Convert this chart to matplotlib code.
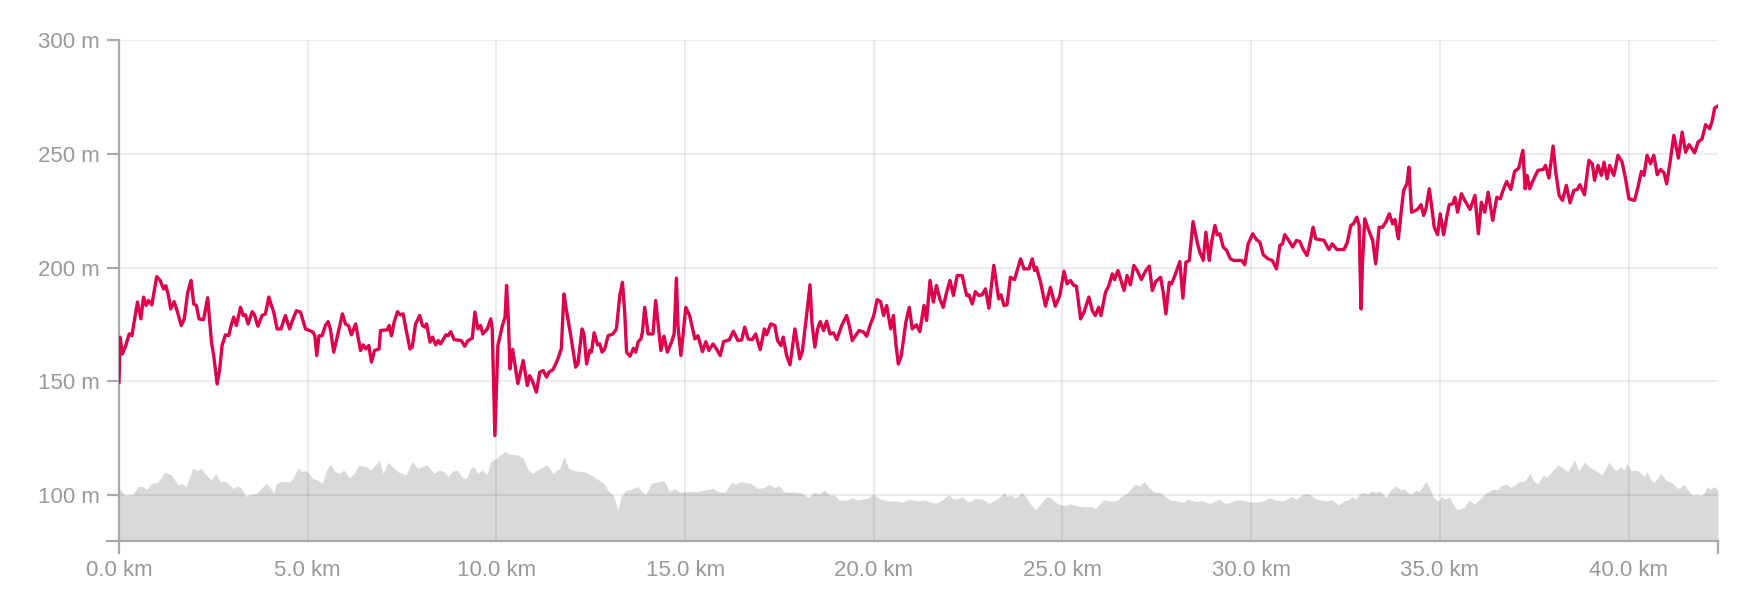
import matplotlib
matplotlib.use("Agg")
import matplotlib.pyplot as plt
import numpy as np

plt.rcParams['font.family'] = ['Liberation Sans', 'DejaVu Sans']

# red profile (km, m)
line_km = [0.0, 0.03, 0.09, 0.18, 0.27, 0.34, 0.4, 0.49, 0.58, 0.65, 0.72, 0.78, 0.87, 1.0, 1.09, 1.18, 1.24, 1.31,
           1.37, 1.46, 1.54, 1.65, 1.73, 1.82, 1.91, 1.98, 2.05, 2.12, 2.24, 2.35, 2.45, 2.51, 2.6, 2.67, 2.73, 2.82,
           2.91, 2.97, 3.04, 3.11, 3.22, 3.29, 3.35, 3.42, 3.53, 3.59, 3.68, 3.79, 3.88, 3.97, 4.04, 4.1, 4.19, 4.29,
           4.41, 4.52, 4.58, 4.7, 4.81, 4.94, 5.05, 5.14, 5.19, 5.24, 5.3, 5.38, 5.47, 5.54, 5.6, 5.69, 5.79, 5.92,
           6.0, 6.08, 6.16, 6.27, 6.4, 6.47, 6.54, 6.62, 6.69, 6.77, 6.89, 6.93, 7.11, 7.16, 7.22, 7.29, 7.38, 7.45,
           7.53, 7.62, 7.71, 7.77, 7.86, 7.97, 8.04, 8.1, 8.15, 8.24, 8.31, 8.39, 8.46, 8.52, 8.6, 8.66, 8.72, 8.79,
           8.88, 9.07, 9.16, 9.25, 9.36, 9.43, 9.51, 9.58, 9.64, 9.76, 9.85, 9.89, 9.96, 10.04, 10.16, 10.23, 10.27,
           10.31, 10.36, 10.43, 10.57, 10.71, 10.82, 10.88, 10.95, 11.06, 11.15, 11.24, 11.33, 11.39, 11.5, 11.63,
           11.72, 11.79, 11.85, 11.97, 12.1, 12.16, 12.27, 12.32, 12.39, 12.47, 12.52, 12.59, 12.68, 12.74, 12.8,
           12.87, 12.96, 13.09, 13.18, 13.27, 13.34, 13.4, 13.45, 13.54, 13.63, 13.69, 13.76, 13.83, 13.87, 13.93,
           14.02, 14.15, 14.22, 14.28, 14.36, 14.44, 14.53, 14.64, 14.71, 14.77, 14.81, 14.89, 15.02, 15.12, 15.26,
           15.34, 15.46, 15.55, 15.63, 15.74, 15.83, 15.93, 16.02, 16.17, 16.28, 16.4, 16.5, 16.58, 16.67, 16.78,
           16.87, 16.99, 17.1, 17.16, 17.27, 17.38, 17.45, 17.54, 17.6, 17.69, 17.78, 17.91, 18.04, 18.11, 18.24,
           18.31, 18.36, 18.44, 18.51, 18.58, 18.67, 18.75, 18.84, 18.93, 19.02, 19.15, 19.28, 19.35, 19.43, 19.61,
           19.73, 19.81, 19.9, 20.0, 20.09, 20.18, 20.26, 20.34, 20.45, 20.52, 20.58, 20.65, 20.73, 20.85, 20.94,
           21.02, 21.13, 21.22, 21.33, 21.4, 21.49, 21.58, 21.66, 21.75, 21.84, 21.93, 22.02, 22.11, 22.21, 22.34,
           22.46, 22.52, 22.61, 22.69, 22.78, 22.87, 22.96, 23.05, 23.18, 23.31, 23.37, 23.45, 23.53, 23.62, 23.73,
           23.89, 23.98, 24.11, 24.2, 24.26, 24.31, 24.42, 24.55, 24.68, 24.81, 24.93, 25.04, 25.12, 25.21, 25.3,
           25.37, 25.48, 25.57, 25.7, 25.79, 25.87, 25.96, 26.02, 26.14, 26.23, 26.32, 26.38, 26.47, 26.63, 26.71,
           26.8, 26.89, 26.98, 27.09, 27.21, 27.3, 27.38, 27.47, 27.6, 27.67, 27.74, 27.83, 27.89, 27.98, 28.11,
           28.19, 28.27, 28.36, 28.46, 28.57, 28.64, 28.73, 28.8, 28.89, 28.95, 29.04, 29.1, 29.17, 29.26, 29.35,
           29.45, 29.54, 29.75, 29.83, 29.92, 30.04, 30.14, 30.23, 30.32, 30.45, 30.56, 30.67, 30.76, 30.83, 30.89,
           30.98, 31.1, 31.2, 31.29, 31.38, 31.48, 31.55, 31.64, 31.71, 31.93, 32.06, 32.15, 32.27, 32.46, 32.55,
           32.64, 32.71, 32.8, 32.86, 32.91, 32.95, 33.01, 33.1, 33.22, 33.3, 33.39, 33.48, 33.57, 33.66, 33.75,
           33.81, 33.9, 33.97, 34.04, 34.13, 34.18, 34.25, 34.36, 34.42, 34.5, 34.57, 34.63, 34.72, 34.79, 34.85,
           34.94, 35.01, 35.1, 35.19, 35.25, 35.34, 35.4, 35.47, 35.57, 35.66, 35.8, 35.93, 36.02, 36.1, 36.19,
           36.28, 36.4, 36.51, 36.6, 36.69, 36.77, 36.88, 36.98, 37.09, 37.2, 37.26, 37.31, 37.38, 37.47, 37.6,
           37.74, 37.8, 37.89, 38.0, 38.07, 38.16, 38.25, 38.35, 38.45, 38.55, 38.64, 38.71, 38.83, 38.95, 39.04,
           39.1, 39.19, 39.28, 39.35, 39.43, 39.5, 39.61, 39.72, 39.83, 39.92, 40.01, 40.16, 40.25, 40.34, 40.41,
           40.49, 40.58, 40.67, 40.76, 40.85, 40.94, 41.01, 41.1, 41.2, 41.32, 41.42, 41.51, 41.6, 41.67, 41.75,
           41.84, 41.95, 42.04, 42.15, 42.22, 42.28, 42.35]
line_m = [149.6, 169.4, 162, 165.7, 170.8, 170, 176, 184.8, 177.4, 187, 183.3, 185.5, 183.6, 196, 194.3, 190.6,
          192, 187.7, 181.8, 185, 181, 174.5, 177.4, 189, 194.3, 184, 183.3, 177.4, 177.1, 186.7, 167.2, 161.3,
          148.8, 155.4, 165.7, 170.4, 170.1, 174.5, 178.2, 174.5, 182.5, 178.9, 179.2, 175.2, 180.6, 179.2, 174.2,
          178.9, 179.6, 187, 183.3, 180.4, 173, 173, 178.9, 173, 176, 181, 180.4, 173, 172.3, 171.6, 170, 161.3,
          170, 170, 174.5, 176.2, 173, 162.8, 170, 179.6, 175.2, 174.5, 170.4, 175.2, 163.5, 166, 164.2, 165.7,
          158.4, 163.5, 164.2, 172.3, 172.6, 174.5, 170, 176, 180.6, 179.2, 179.6, 171.6, 164.2, 165, 175.2, 178.9,
          174.5, 173.8, 175.2, 167.2, 169.4, 166, 167.9, 166.4, 168.6, 170.4, 170, 171.8, 168.3, 167.9, 165.4,
          167.9, 168.9, 180.4, 173, 174.5, 170.8, 173, 177.4, 173, 126.1, 165.7, 174.5, 178.2, 192.1, 180.4, 155.4,
          164, 149, 159.1, 148.1, 152.5, 150.3, 145.2, 154, 154.7, 151.8, 154, 155.1, 159.8, 164.2, 188.4, 181.8,
          170.1, 156.2, 157.6, 173, 170.8, 157.6, 163.5, 162.8, 171.3, 166, 166.4, 162.8, 164.2, 170, 170.8, 173,
          187.7, 193.5, 180.4, 162.8, 161, 164.5, 162.8, 167.4, 168.6, 171.6, 182.5, 170.8, 170.8, 185.5, 176,
          163.5, 169.8, 162.8, 167.2, 170.8, 195.3, 174.5, 161.3, 182.5, 178.9, 168.6, 170, 163, 167.4, 163.5,
          166.4, 164.2, 161.3, 167.4, 168.2, 172, 167.9, 168.2, 173.8, 168.6, 168.3, 170.8, 163.9, 173, 170.4,
          175.2, 174.5, 167.9, 165.7, 169.4, 161.3, 157.2, 173, 159.8, 163.5, 181.8, 192.4, 176, 165, 173, 176.2,
          172.3, 176.4, 170.8, 171.3, 168.3, 174.5, 178.9, 174.5, 167.9, 172.3, 171.6, 169.8, 174.5, 178.9, 185.9,
          185, 178.9, 183.3, 173, 178.9, 167.2, 157.6, 161.3, 176, 182.5, 173, 174.8, 171.8, 183.3, 176.7, 194.3,
          184.8, 192.1, 186.2, 182.5, 189.1, 194.3, 187.7, 196.5, 196.5, 187.7, 188, 184, 189.4, 187.7, 188, 190.6,
          182.1, 200.9, 186.2, 188, 183.3, 183.6, 195.7, 194.7, 203.8, 199.4, 199.4, 203.8, 198.7, 200.1, 193.5,
          183, 191.3, 183, 187.7, 198.4, 192.8, 194.3, 192.1, 191.8, 177.4, 180.4, 187, 181.1, 178.9, 182.5, 178.9,
          189.1, 192.1, 197.2, 194.7, 198.7, 189.9, 196.5, 192.4, 200.9, 198.7, 194.7, 198.7, 200.6, 189.9, 193.8,
          195.7, 189.1, 179.6, 193.5, 192.8, 196.5, 202.6, 186.5, 202.3, 203.1, 220.2, 211.1, 206.7, 203.1, 215.5,
          203.1, 211.1, 218.5, 214.4, 214.8, 209, 207.5, 203.8, 203.1, 203.1, 201.2, 210.4, 214.8, 212.3, 211.1,
          205.6, 203.8, 203.1, 199.4, 209.7, 210.4, 214.4, 212.3, 209, 211.9, 211.4, 207.9, 205.3, 210, 217.7,
          212.6, 211.9, 207.9, 210.4, 207.9, 207.9, 211.1, 218.5, 219.2, 222.1, 218.5, 181.8, 202.3, 221.4, 217,
          211.9, 201.6, 217.7, 217.7, 220, 223.6, 219.2, 221.1, 212.6, 223.6, 233.9, 236.8, 244.1, 224.3, 225.1,
          225.8, 227.6, 222.9, 225.8, 234.6, 225.8, 217.7, 214.4, 223.6, 214.4, 222.9, 227.6, 228, 230.9, 224.3,
          232.4, 229.5, 225.5, 231.7, 214.8, 228.7, 224.3, 233.1, 220.7, 230.9, 230.2, 234.6, 237.8, 234.3, 242.2,
          243.7, 251.5, 234.6, 240.5, 234.6, 238.3, 242.7, 243.1, 244.9, 239.3, 253.4, 242, 231.7, 229.5, 236.1,
          228.4, 233.9, 234.3, 236.4, 232, 247.1, 245.6, 238.3, 244.9, 240.5, 246.3, 239, 244.9, 240.5, 249.3,
          246.3, 239, 230.2, 229.5, 235.3, 242.2, 240.5, 249.3, 245.6, 249.3, 240.8, 243.1, 241.6, 236.8, 246.3,
          258.1, 248.1, 259.5, 250.7, 254, 252.5, 250.4, 255.1, 256.6, 262.8, 261, 264.7, 270.1, 270.8]

# grey background profile (km, m)
area_km = [0.0, 0.15, 0.37, 0.5, 0.64, 0.73, 0.86, 1.03, 1.21, 1.39, 1.56, 1.68, 1.78, 1.96, 2.07, 2.18, 2.31, 2.45,
           2.56, 2.67, 2.84, 3.02, 3.15, 3.24, 3.37, 3.46, 3.64, 3.77, 3.9, 4.03, 4.1, 4.17, 4.3, 4.52, 4.61, 4.74,
           4.86, 4.97, 5.14, 5.26, 5.39, 5.5, 5.61, 5.72, 5.83, 5.96, 6.1, 6.23, 6.36, 6.54, 6.67, 6.8, 6.89, 7.0,
           7.13, 7.24, 7.38, 7.6, 7.77, 7.91, 8.04, 8.17, 8.35, 8.48, 8.61, 8.72, 8.83, 8.97, 9.1, 9.21, 9.32, 9.41,
           9.5, 9.63, 9.74, 9.85, 9.98, 10.1, 10.22, 10.38, 10.56, 10.71, 10.82, 10.95, 11.09, 11.24, 11.35, 11.5,
           11.68, 11.79, 11.92, 12.08, 12.3, 12.52, 12.71, 12.85, 12.98, 13.09, 13.15, 13.22, 13.31, 13.42, 13.62,
           13.75, 13.86, 13.95, 14.11, 14.28, 14.44, 14.59, 14.71, 14.86, 14.99, 15.34, 15.61, 15.74, 15.86, 16.05,
           16.23, 16.34, 16.47, 16.74, 16.92, 17.08, 17.23, 17.36, 17.49, 17.62, 17.93, 18.11, 18.26, 18.42, 18.55,
           18.68, 18.82, 18.95, 19.08, 19.3, 19.43, 19.57, 19.7, 19.83, 19.99, 20.14, 20.32, 20.58, 20.76, 20.94,
           21.15, 21.33, 21.63, 21.77, 21.86, 21.99, 22.08, 22.21, 22.34, 22.52, 22.69, 22.87, 23.05, 23.22, 23.36,
           23.45, 23.53, 23.62, 23.75, 23.93, 24.06, 24.17, 24.28, 24.42, 24.58, 24.68, 24.81, 24.9, 25.04, 25.21,
           25.39, 25.57, 25.75, 25.87, 25.96, 26.08, 26.23, 26.43, 26.56, 26.7, 26.8, 26.92, 27.05, 27.16, 27.3,
           27.45, 27.58, 27.67, 27.83, 28.02, 28.2, 28.33, 28.51, 28.7, 28.9, 29.04, 29.17, 29.3, 29.44, 29.57,
           29.74, 29.96, 30.14, 30.32, 30.48, 30.63, 30.85, 31.07, 31.2, 31.36, 31.53, 31.68, 31.85, 31.98, 32.16,
           32.31, 32.46, 32.57, 32.68, 32.77, 32.86, 32.97, 33.08, 33.18, 33.3, 33.39, 33.48, 33.57, 33.7, 33.83,
           33.97, 34.05, 34.14, 34.23, 34.36, 34.45, 34.54, 34.63, 34.72, 34.85, 34.96, 35.04, 35.16, 35.25, 35.34,
           35.45, 35.64, 35.78, 35.91, 36.04, 36.17, 36.31, 36.42, 36.53, 36.63, 36.77, 36.88, 36.98, 37.09, 37.24,
           37.39, 37.49, 37.6, 37.74, 37.83, 37.98, 38.13, 38.27, 38.39, 38.57, 38.68, 38.83, 38.99, 39.17, 39.3,
           39.48, 39.66, 39.79, 39.88, 39.96, 40.07, 40.21, 40.34, 40.41, 40.49, 40.6, 40.69, 40.85, 41.01, 41.11,
           41.25, 41.33, 41.47, 41.57, 41.69, 41.82, 41.91, 42.0, 42.08, 42.17, 42.26, 42.37]
area_m = [103, 100, 100.3, 103.7, 103.7, 102.6, 105, 105.7, 110, 108.8, 104.4, 105, 103.7, 112, 110.6, 111.7, 108.8,
          106.6, 109.5, 105.9, 105.9, 102.9, 104, 102.9, 99.3, 100.3, 100.7, 102.9, 105, 102.9, 100.7, 105, 106,
          105.7, 107.3, 111.7, 110.3, 110.7, 107.3, 106.6, 105.1, 111, 113.5, 110.3, 109.5, 111, 107.6, 109.5, 113.2,
          112.5, 111, 113.2, 115.4, 109.5, 114.4, 112.5, 110.3, 108.8, 114.7, 111.7, 112.5, 113.2, 109.5, 111, 110.3,
          108, 110.3, 111, 107.6, 107.3, 111.7, 112.5, 109.5, 111, 108.8, 114.7, 115.8, 117.6, 119, 117.9, 117.6,
          116.1, 111.7, 109.5, 111, 112.5, 113.2, 109.5, 111.7, 116.9, 111.7, 110.6, 110.3, 108.8, 106.6, 105.1,
          101.5, 100, 97.1, 93.4, 99.3, 101.8, 102.9, 103.7, 101.5, 100, 105.1, 105.9, 106.2, 101.5, 102.9, 101.2,
          101.5, 101.5, 102.6, 102.9, 101.5, 101.2, 105.6, 104.7, 105.9, 105.1, 102.9, 103.2, 104.7, 103.2, 104.1,
          101.5, 101.2, 100.7, 98.8, 101.2, 100.3, 102.2, 100, 100, 97.8, 97.8, 98.8, 97.8, 98.2, 98.5, 100.3, 98.5,
          97.4, 97.4, 96.8, 98.2, 97.4, 97.8, 96.3, 97.4, 98.5, 100.3, 98.5, 98.2, 99.3, 96.8, 98.5, 98.2, 96.3,
          97.8, 99.3, 101.2, 99.3, 100, 98.5, 101.2, 98.5, 95.6, 93.4, 96, 99.3, 98.8, 96.8, 96, 95.3, 96, 95.3,
          94.9, 94.9, 94.1, 95.6, 97.8, 97.4, 97.4, 99.3, 100.7, 102.6, 104.7, 104.1, 105.9, 103.2, 101.2, 101.2,
          100, 97.8, 97.4, 96.8, 98.2, 97.1, 97.4, 96.3, 97.4, 98.2, 96.3, 96.8, 97.8, 97.8, 97.1, 96.8, 97.4, 98.8,
          97.8, 97.4, 99.3, 98.2, 100.3, 100.7, 98.5, 97.8, 97.4, 97.8, 95.6, 97.4, 97.8, 99.3, 98.2, 100.3, 101.2,
          100.3, 101.8, 101.2, 101.8, 100.7, 98.8, 102.2, 104.1, 102.2, 102.9, 101.2, 100.3, 102.2, 101.5, 103.7,
          105.9, 103.2, 98.5, 97.4, 99.3, 98.2, 99.3, 96.3, 93.4, 94.4, 97.8, 96, 97.8, 100.3, 101.8, 102.6, 102.2,
          104.1, 104.7, 103.2, 104.4, 105.9, 105.9, 109.5, 105.9, 105.1, 108.8, 107.6, 110.6, 113.2, 111.7, 110.3,
          115.4, 110.6, 114.4, 112, 110.3, 108.8, 114.4, 110.6, 112.5, 111, 113.9, 110.6, 111, 109.5, 108, 110.3,
          106.2, 105.6, 109.5, 106.2, 105.9, 103.7, 102.9, 104.7, 102.2, 100, 100.3, 99.7, 100.7, 103.7, 102.6,
          103.7, 102.2]

x_ticks = [0, 5, 10, 15, 20, 25, 30, 35, 40]
x_labels = ['0.0 km', '5.0 km', '10.0 km', '15.0 km', '20.0 km', '25.0 km', '30.0 km', '35.0 km', '40.0 km']
y_ticks = [100, 150, 200, 250, 300]
y_labels = ['100 m', '150 m', '200 m', '250 m', '300 m']
x_max = 42.37
y_min, y_max = 80, 300

fig = plt.figure(figsize=(17.64, 6.08), dpi=100)
# plot box: left 119, right 1718, top 40, bottom 540.5 (pixels)
ax = fig.add_axes([119 / 1764, 67.5 / 608, 1599 / 1764, 500.5 / 608])

ax.fill_between(area_km, y_min, area_m, color='#d9d9d9', lw=0, zorder=1)
ax.plot(line_km, line_m, color='#de0048', lw=2.4, solid_joinstyle='round', zorder=3)

ax.set_xlim(0, x_max)
ax.set_ylim(y_min, y_max)
ax.set_xticks(x_ticks)
ax.set_xticklabels(x_labels)
ax.set_yticks(y_ticks)
ax.set_yticklabels(y_labels)

ax.set_axisbelow('line')
ax.grid(True, color='black', alpha=0.07, lw=1.5)

for s in ['top', 'right']:
    ax.spines[s].set_visible(False)
for s in ['left', 'bottom']:
    ax.spines[s].set_color('#aaaaaa')
    ax.spines[s].set_linewidth(1.6)

ax.tick_params(axis='y', length=8.6, width=1.6, color='#aaaaaa', labelcolor='#999999', labelsize=16, pad=5)
ax.tick_params(axis='x', length=0, labelcolor='#999999', labelsize=16, pad=14)

# small end marks under the x axis, and the axis stub left of the y axis
tr = ax.get_xaxis_transform()
ax.plot([0, 0], [0, -0.024], transform=tr, color='#aaaaaa', lw=1.6, clip_on=False)
ax.plot([x_max, x_max], [0, -0.024], transform=tr, color='#aaaaaa', lw=1.6, clip_on=False)
ax.plot([-0.0075, 0], [0, 0], transform=ax.transAxes, color='#aaaaaa', lw=1.6, clip_on=False)

plt.savefig('out.png', dpi=100)
